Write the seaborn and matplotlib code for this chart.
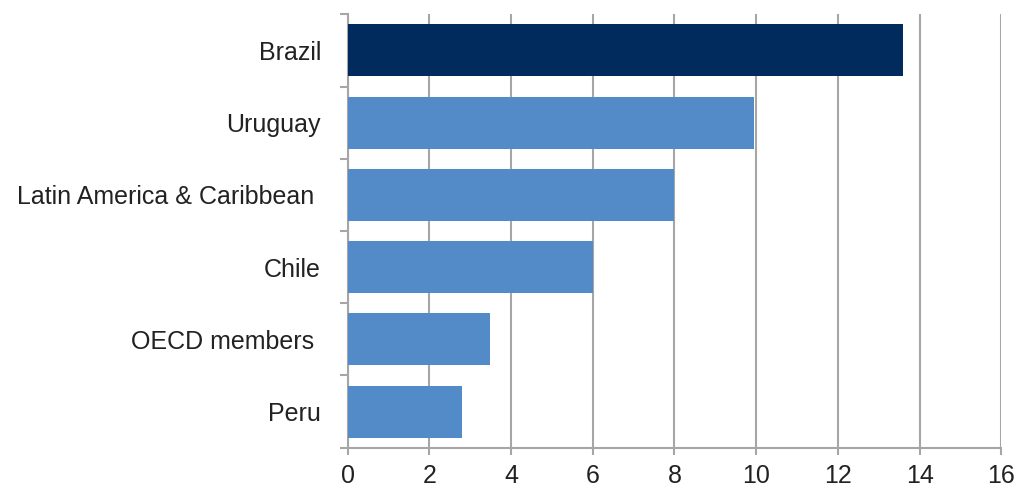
import matplotlib
matplotlib.use("Agg")
import matplotlib.pyplot as plt
import seaborn as sns
import pandas as pd
from matplotlib.ticker import FixedLocator

# Values per country / group
categories = ["Brazil", "Uruguay", "Latin America & Caribbean ", "Chile", "OECD members ", "Peru"]
values = [13.6, 9.95, 7.98, 6.0, 3.48, 2.8]
bar_colors = ["#002b5c", "#538bc8", "#538bc8", "#538bc8", "#538bc8", "#538bc8"]
x_ticks = [0, 2, 4, 6, 8, 10, 12, 14, 16]

sns.set_theme(style="white")
plt.rcParams["font.family"] = ["Liberation Sans", "DejaVu Sans"]

df = pd.DataFrame({"category": categories, "value": values})

fig = plt.figure(figsize=(10.17, 4.91), dpi=100)
ax = fig.add_axes([0.3417, 0.0882, 0.643, 0.8827])

sns.barplot(
    data=df, x="value", y="category", hue="category",
    palette=dict(zip(categories, bar_colors)), orient="h",
    width=0.72, legend=False, ax=ax, zorder=3, saturation=1,
    edgecolor="none",
)

grid_col = "#a6a6a6"
ax.set_xlim(0, 16)
ax.set_ylim(len(categories) - 0.5, -0.5)
ax.set_xticks(x_ticks)
ax.set_xticklabels([str(t) for t in x_ticks])
ax.xaxis.grid(True, color=grid_col, linewidth=1.5, zorder=0)
ax.yaxis.grid(False)
ax.set_axisbelow(True)

# Category separators as minor ticks on the y axis
ax.yaxis.set_minor_locator(FixedLocator([i - 0.5 for i in range(len(categories) + 1)]))
ax.tick_params(axis="y", which="minor", length=6, width=1.5, color=grid_col, left=True)
ax.tick_params(axis="y", which="major", length=0, pad=19, labelsize=18, labelcolor="#222222")
ax.tick_params(axis="x", which="major", length=5, width=1.5, color=grid_col, bottom=True,
               pad=7, labelsize=18, labelcolor="#222222")

for side in ["top", "right"]:
    ax.spines[side].set_visible(False)
for side in ["left", "bottom"]:
    ax.spines[side].set_color(grid_col)
    ax.spines[side].set_linewidth(1.5)

ax.set_xlabel("")
ax.set_ylabel("")

fig.savefig("out.png", dpi=100)
